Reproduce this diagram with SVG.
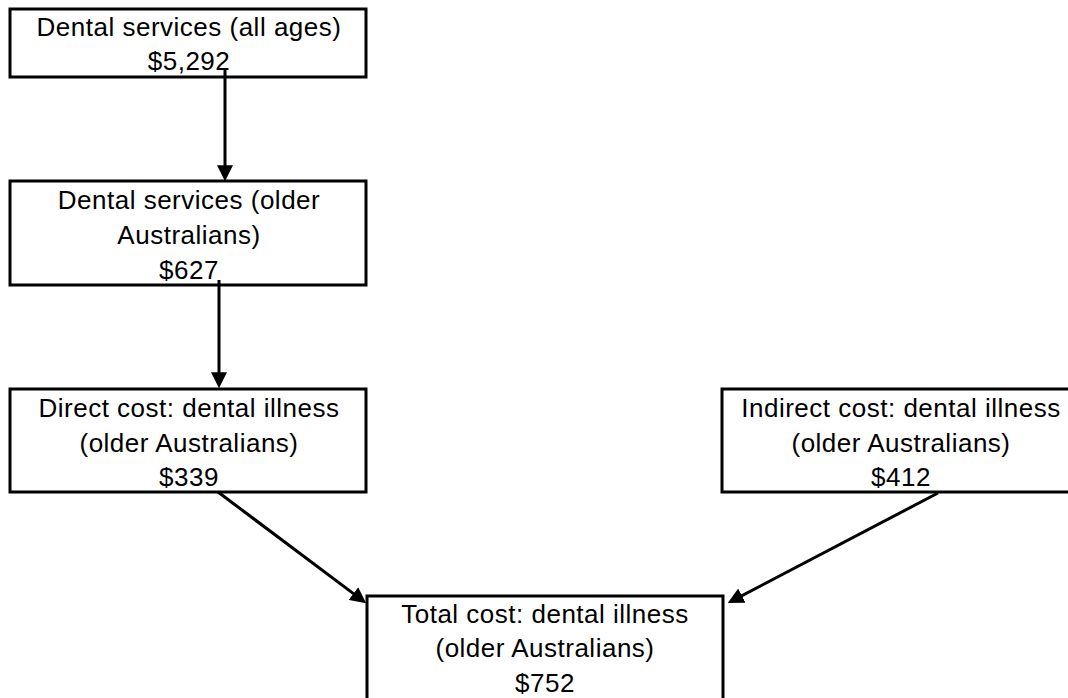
<svg xmlns="http://www.w3.org/2000/svg" width="1068" height="698" viewBox="0 0 1068 698">
<style>
.box{fill:#fff;stroke:#000;stroke-width:3}
.t{font-family:"Liberation Sans",Arial,sans-serif;font-size:26px;letter-spacing:0.5px;fill:#000;text-anchor:middle}
.c{stroke:#000;stroke-width:3;fill:none;marker-end:url(#ah)}
</style>
<defs>
<marker id="ah" markerUnits="userSpaceOnUse" markerWidth="16" markerHeight="16" refX="11" refY="7.5" orient="auto" viewBox="0 0 15 15">
<path d="M0,0 L15,7.5 L0,15 z" fill="#000"/>
</marker>
</defs>
<rect width="1068" height="698" fill="#fff"/>
<g id="n1">
<rect class="box" x="10" y="9" width="356" height="68"/>
<text class="t" x="189" y="36">Dental services (all ages)</text>
<text class="t" x="189" y="70">$5,292</text>
</g>
<g id="n2">
<rect class="box" x="10" y="181" width="356" height="104"/>
<text class="t" x="189" y="209">Dental services (older</text>
<text class="t" x="189" y="244">Australians)</text>
<text class="t" x="189" y="279">$627</text>
</g>
<g id="n3">
<rect class="box" x="10" y="389" width="356" height="103"/>
<text class="t" x="189" y="417">Direct cost: dental illness</text>
<text class="t" x="189" y="452">(older Australians)</text>
<text class="t" x="189" y="486">$339</text>
</g>
<g id="n4">
<rect class="box" x="722" y="389" width="358" height="103"/>
<text class="t" x="901" y="417">Indirect cost: dental illness</text>
<text class="t" x="901" y="452">(older Australians)</text>
<text class="t" x="901" y="486">$412</text>
</g>
<g id="n5">
<rect class="box" x="367" y="596" width="356" height="110"/>
<text class="t" x="545" y="623">Total cost: dental illness</text>
<text class="t" x="545" y="657">(older Australians)</text>
<text class="t" x="545" y="692">$752</text>
</g>
<g id="connectors">
<path class="c" d="M225,70 L225,177"/>
<path class="c" d="M219,280 L219,384"/>
<path class="c" d="M218,492 L362.8,600.6"/>
<path class="c" d="M938,493 L731.5,601.1"/>
</g>
</svg>
